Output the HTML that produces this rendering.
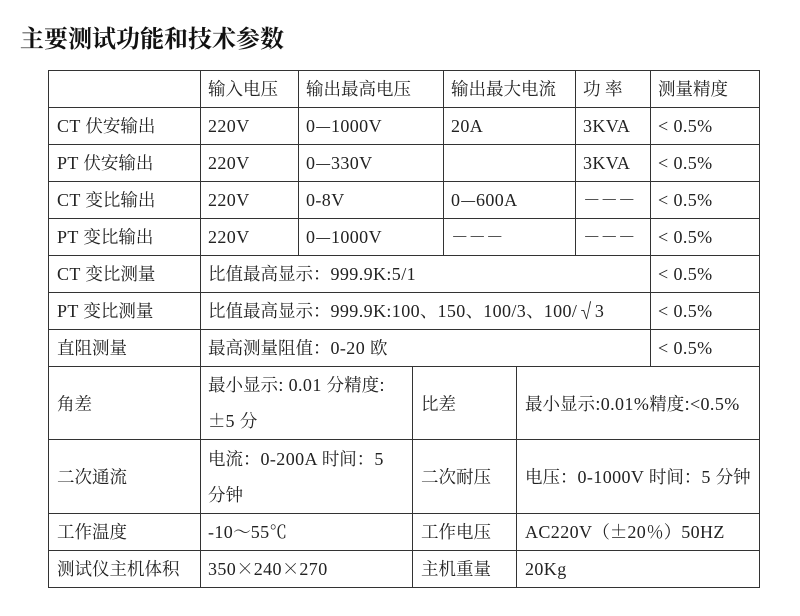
<!DOCTYPE html>
<html><head><meta charset="utf-8"><style>
body{margin:0;width:800px;height:616px;background:#fff;position:relative;overflow:hidden;font-family:"Noto Serif CJK SC","Liberation Serif",serif;color:#222}
.h{position:absolute;height:1px;background:#333}
.v{position:absolute;width:1px;background:#333}
.t{position:absolute;font-size:17.5px;line-height:20px;white-space:nowrap;transform:translateY(-10px)}
.l{font-family:"Liberation Serif",serif;font-size:18px;letter-spacing:0.4px}
.title{position:absolute;left:20px;top:22px;font-size:24px;line-height:30px;font-family:"Noto Serif CJK SC",serif;font-weight:700;color:#111}
</style></head><body>
<div class="title">主要测试功能和技术参数</div>
<div class="h" style="left:48px;width:712px;top:70px"></div>
<div class="h" style="left:48px;width:712px;top:107px"></div>
<div class="h" style="left:48px;width:712px;top:144px"></div>
<div class="h" style="left:48px;width:712px;top:181px"></div>
<div class="h" style="left:48px;width:712px;top:218px"></div>
<div class="h" style="left:48px;width:712px;top:255px"></div>
<div class="h" style="left:48px;width:712px;top:292px"></div>
<div class="h" style="left:48px;width:712px;top:329px"></div>
<div class="h" style="left:48px;width:712px;top:366px"></div>
<div class="h" style="left:48px;width:712px;top:439px"></div>
<div class="h" style="left:48px;width:712px;top:513px"></div>
<div class="h" style="left:48px;width:712px;top:550px"></div>
<div class="h" style="left:48px;width:712px;top:587px"></div>
<div class="v" style="left:48px;top:70px;height:518px"></div>
<div class="v" style="left:759px;top:70px;height:518px"></div>
<div class="v" style="left:200px;top:70px;height:518px"></div>
<div class="v" style="left:298px;top:70px;height:185px"></div>
<div class="v" style="left:443px;top:70px;height:185px"></div>
<div class="v" style="left:575px;top:70px;height:185px"></div>
<div class="v" style="left:650px;top:70px;height:296px"></div>
<div class="v" style="left:412px;top:366px;height:222px"></div>
<div class="v" style="left:516px;top:366px;height:222px"></div>
<div class="t" style="left:208px;top:89px">输入电压</div>
<div class="t" style="left:306px;top:89px">输出最高电压</div>
<div class="t" style="left:451px;top:89px">输出最大电流</div>
<div class="t" style="left:583px;top:89px">功 率</div>
<div class="t" style="left:658px;top:89px">测量精度</div>

<div class="t" style="left:57px;top:126px"><span class="l">CT </span>伏安输出</div>
<div class="t" style="left:208px;top:126px"><span class="l">220V</span></div>
<div class="t" style="left:306px;top:126px"><span class="l">0</span>—<span class="l">1000V</span></div>
<div class="t" style="left:451px;top:126px"><span class="l">20A</span></div>
<div class="t" style="left:583px;top:126px"><span class="l">3KVA</span></div>
<div class="t" style="left:658px;top:126px"><span class="l">&lt;  0.5%</span></div>

<div class="t" style="left:57px;top:163px"><span class="l">PT </span>伏安输出</div>
<div class="t" style="left:208px;top:163px"><span class="l">220V</span></div>
<div class="t" style="left:306px;top:163px"><span class="l">0</span>—<span class="l">330V</span></div>
<div class="t" style="left:583px;top:163px"><span class="l">3KVA</span></div>
<div class="t" style="left:658px;top:163px"><span class="l">&lt;  0.5%</span></div>

<div class="t" style="left:57px;top:200px"><span class="l">CT </span>变比输出</div>
<div class="t" style="left:208px;top:200px"><span class="l">220V</span></div>
<div class="t" style="left:306px;top:200px"><span class="l">0-8V</span></div>
<div class="t" style="left:451px;top:200px"><span class="l">0</span>—<span class="l">600A</span></div>
<div class="t" style="left:583px;top:200px">－－－</div>
<div class="t" style="left:658px;top:200px"><span class="l">&lt;  0.5%</span></div>

<div class="t" style="left:57px;top:237px"><span class="l">PT </span>变比输出</div>
<div class="t" style="left:208px;top:237px"><span class="l">220V</span></div>
<div class="t" style="left:306px;top:237px"><span class="l">0</span>—<span class="l">1000V</span></div>
<div class="t" style="left:451px;top:237px">－－－</div>
<div class="t" style="left:583px;top:237px">－－－</div>
<div class="t" style="left:658px;top:237px"><span class="l">&lt;  0.5%</span></div>

<div class="t" style="left:57px;top:274px"><span class="l">CT  </span>变比测量</div>
<div class="t" style="left:208px;top:274px">比值最高显示：<span class="l">999.9K:5/1</span></div>
<div class="t" style="left:658px;top:274px"><span class="l">&lt;  0.5%</span></div>
<div class="t" style="left:57px;top:311px"><span class="l">PT  </span>变比测量</div>
<div class="t" style="left:208px;top:311px">比值最高显示：<span class="l">999.9K:100</span>、<span class="l">150</span>、<span class="l">100/3</span>、<span class="l">100/</span>√<span class="l">3</span></div>
<div class="t" style="left:658px;top:311px"><span class="l">&lt;  0.5%</span></div>
<div class="t" style="left:57px;top:348px">直阻测量</div>
<div class="t" style="left:208px;top:348px">最高测量阻值：<span class="l">0-20 </span>欧</div>
<div class="t" style="left:658px;top:348px"><span class="l">&lt;  0.5%</span></div>

<div class="t" style="left:57px;top:404px">角差</div>
<div class="t" style="left:208px;top:385px">最小显示:<span class="l"> 0.01 </span>分精度:</div>
<div class="t" style="left:208px;top:421px">±<span class="l">5 </span>分</div>
<div class="t" style="left:421px;top:404px">比差</div>
<div class="t" style="left:525px;top:404px">最小显示:<span class="l">0.01%</span>精度:<span class="l">&lt;0.5%</span></div>
<div class="t" style="left:57px;top:477px">二次通流</div>
<div class="t" style="left:208px;top:459px">电流：<span class="l">0-200A </span>时间：<span class="l">5</span></div>
<div class="t" style="left:208px;top:495px">分钟</div>
<div class="t" style="left:421px;top:477px">二次耐压</div>
<div class="t" style="left:525px;top:477px">电压：<span class="l">0-1000V </span>时间：<span class="l">5 </span>分钟</div>
<div class="t" style="left:57px;top:532px">工作温度</div>
<div class="t" style="left:208px;top:532px"><span class="l">-10</span>～<span class="l">55</span>℃</div>
<div class="t" style="left:421px;top:532px">工作电压</div>
<div class="t" style="left:525px;top:532px"><span class="l">AC220V</span>（±<span class="l">20</span>％）<span class="l">50HZ</span></div>
<div class="t" style="left:57px;top:569px">测试仪主机体积</div>
<div class="t" style="left:208px;top:569px"><span class="l">350</span>×<span class="l">240</span>×<span class="l">270</span></div>
<div class="t" style="left:421px;top:569px">主机重量</div>
<div class="t" style="left:525px;top:569px"><span class="l">20Kg</span></div>
</body></html>
